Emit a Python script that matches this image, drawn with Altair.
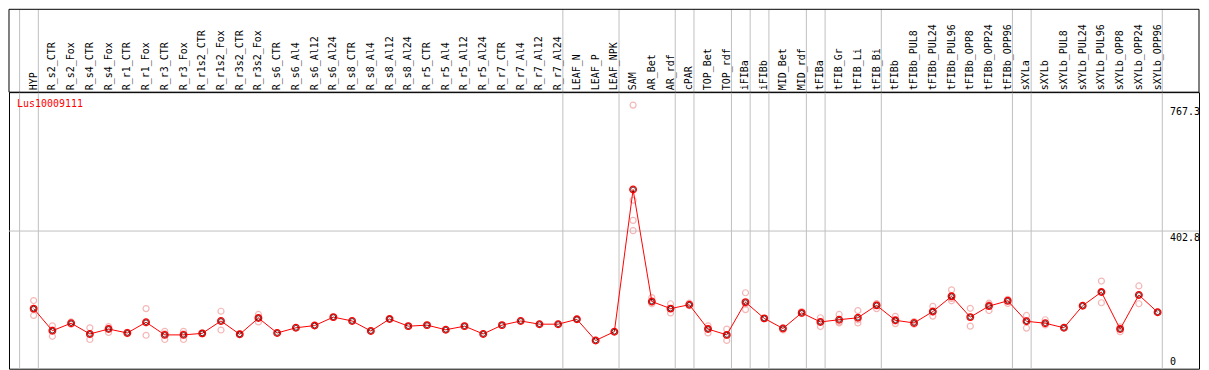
import altair as alt
import pandas as pd

# ---------------- data ----------------
names = ["HYP", "R_s2_CTR", "R_s2_Fox", "R_s4_CTR", "R_s4_Fox", "R_r1_CTR", "R_r1_Fox",
         "R_r3_CTR", "R_r3_Fox", "R_r1s2_CTR", "R_r1s2_Fox", "R_r3s2_CTR", "R_r3s2_Fox",
         "R_s6_CTR", "R_s6_Al4", "R_s6_Al12", "R_s6_Al24", "R_s8_CTR", "R_s8_Al4",
         "R_s8_Al12", "R_s8_Al24", "R_r5_CTR", "R_r5_Al4", "R_r5_Al12", "R_r5_Al24",
         "R_r7_CTR", "R_r7_Al4", "R_r7_Al12", "R_r7_Al24", "LEAF_N", "LEAF_P", "LEAF_NPK",
         "SAM", "AR_Bet", "AR_rdf", "cPAR", "TOP_Bet", "TOP_rdf", "iFIBa", "iFIBb",
         "MID_Bet", "MID_rdf", "tFIBa", "tFIB_Gr", "tFIB_Li", "tFIB_Bi", "tFIBb",
         "tFIBb_PUL8", "tFIBb_PUL24", "tFIBb_PUL96", "tFIBb_OPP8", "tFIBb_OPP24",
         "tFIBb_OPP96", "sXYLa", "sXYLb", "sXYLb_PUL8", "sXYLb_PUL24", "sXYLb_PUL96",
         "sXYLb_OPP8", "sXYLb_OPP24", "sXYLb_OPP96"]

groups = (["HYP"] + ["R"] * 28 + ["LEAF"] * 3 + ["SAM"] * 3 + ["cPAR"] + ["TOP"] * 2
          + ["iFIBa"] + ["iFIBb"] + ["MID"] * 2 + ["tFIBa"] + ["tFIB"] * 3
          + ["tFIBb"] * 7 + ["sXYLa"] + ["sXYLb"] * 7)

means = [178.4, 114.4, 136.1, 105.1, 119.2, 107.9, 138.9, 102.3, 102.3, 106.8,
         142.6, 104.0, 151.0, 107.9, 122.9, 129.3, 153.8, 142.6, 113.6, 148.2,
         127.6, 130.5, 117.2, 127.6, 105.1, 130.5, 142.6, 133.3, 133.3, 147.4,
         86.2, 111.6, 523.0, 198.9, 178.4, 189.6, 119.2, 102.3, 197.0, 150.2,
         120.9, 166.0, 139.8, 146.2, 151.9, 187.7, 144.5, 136.9, 169.9, 213.9,
         153.8, 185.7, 200.9, 141.7, 136.1, 122.9, 186.8, 226.3, 119.2, 217.8,
         167.9]

reps = [[201.7, 158.6, 175.0], [128.5, 98.3, 116.0], [139.8, 133.3], [122.9, 89.0, 103.0],
        [126.5, 109.6, 121.0], [110.0, 106.0], [178.4, 101.2, 137.0], [112.4, 89.0, 105.0],
        [112.4, 89.0, 105.0], [108.0, 105.0], [170.8, 116.4, 141.0], [105.0, 103.0],
        [161.5, 139.8, 152.0], [108.0], [123.0], [129.0], [154.0], [143.0], [114.0],
        [148.0], [127.6], [130.5], [117.2], [127.6], [105.1], [130.5], [142.6], [133.3],
        [133.3], [147.4], [86.2], [111.6], [767.3, 492.0, 433.6, 404.0],
        [210.2, 192.4, 197.0], [192.4, 166.0, 178.0], [194.1, 186.8],
        [128.5, 107.9, 121.0], [119.2, 86.2, 101.0], [224.3, 175.5, 192.0], [150.0],
        [116.4, 123.0], [169.9, 164.0], [151.9, 126.5, 141.0], [161.5, 136.9, 140.0],
        [172.7, 136.9, 146.0], [191.3, 178.4, 193.0], [155.8, 135.0, 143.0],
        [140.6, 133.3], [184.8, 156.7, 168.0], [232.7, 200.9, 208.0], [179.2, 127.6],
        [194.1, 172.7, 190.0], [205.4, 193.3], [158.6, 122.0, 144.0], [146.2, 131.3],
        [123.0], [187.0], [258.1, 195.3, 225.0], [125.7, 111.6, 120.0],
        [244.0, 192.4, 217.0], [168.0]]

gene = "Lus10009111"
tick_labels = [767.3, 402.8]
zero_label = [0]
grid_values = [402.8]

# ---------------- layout ----------------
W, H, HH = 1192, 277, 83
FONT = "DejaVu Sans Mono"
XDOM = [-1.316, 62.21]
YDOM = [4.5, 804.7]

df = pd.DataFrame({"idx": list(range(len(names))), "name": names, "mean": means})
rep_rows = [{"idx": i, "value": v} for i, vals in enumerate(reps) for v in vals]
df_rep = pd.DataFrame(rep_rows)

ends = [-1] + [i for i in range(len(groups)) if i == len(groups) - 1 or groups[i] != groups[i + 1]]
df_sep = pd.DataFrame({"pos": [e + 0.25 for e in ends]})

xs = alt.Scale(domain=XDOM, nice=False, zero=False)
ys = alt.Scale(domain=YDOM, nice=False, zero=False)
X = alt.X("idx:Q", scale=xs, axis=None)

seps = alt.Chart(df_sep).mark_rule(color="#c0c0c0", strokeWidth=1).encode(
    x=alt.X("pos:Q", scale=xs, axis=None),
    y=alt.value(-HH), y2=alt.value(H))

grid = alt.Chart(pd.DataFrame({"v": grid_values})).mark_rule(color="#c0c0c0", strokeWidth=1).encode(
    y=alt.Y("v:Q", scale=ys, axis=None),
    x=alt.value(0), x2=alt.value(W))

col_labels = alt.Chart(df).mark_text(
    font=FONT, fontSize=10, color="black", angle=270, align="left", baseline="middle").encode(
    x=X, y=alt.value(-2), text="name:N")

rep_pts = alt.Chart(df_rep).mark_point(shape="circle", filled=False, size=36,
                                       color="#f09a9a", strokeWidth=1.2).encode(
    x=X, y=alt.Y("value:Q", scale=ys, axis=None))

line = alt.Chart(df).mark_line(color="#ff0000", strokeWidth=1).encode(
    x=X, y=alt.Y("mean:Q", scale=ys, axis=None))

mean_pts = alt.Chart(df).mark_point(shape="circle", filled=False, size=44,
                                    color="#ff0000", strokeWidth=1.3, opacity=1).encode(
    x=X, y=alt.Y("mean:Q", scale=ys, axis=None))

mean_inner = alt.Chart(df).mark_point(shape="circle", filled=False, size=22,
                                      color="#300000", strokeWidth=0.9, opacity=0.85).encode(
    x=X, y=alt.Y("mean:Q", scale=ys, axis=None))

top_labels = alt.Chart(pd.DataFrame({"v": tick_labels})).mark_text(
    font=FONT, fontSize=10, color="black", align="left", baseline="top", dy=2).encode(
    y=alt.Y("v:Q", scale=ys, axis=None), x=alt.value(W - 29), text=alt.Text("v:Q", format=".1f"))

zero_lab = alt.Chart(pd.DataFrame({"v": zero_label})).mark_text(
    font=FONT, fontSize=10, color="black", align="left", baseline="bottom", dy=-3).encode(
    y=alt.Y("v:Q", scale=ys, axis=None), x=alt.value(W - 29), text=alt.Text("v:Q", format="d"))

title = alt.Chart(pd.DataFrame({"t": [gene]})).mark_text(
    font=FONT, fontSize=10, color="#ff0000", align="left", baseline="top").encode(
    x=alt.value(8), y=alt.value(7), text="t:N")

header = alt.Chart(pd.DataFrame({"a": [0]})).mark_rect(
    filled=False, stroke="black", strokeWidth=1, fill="transparent").encode(
    x=alt.value(0), x2=alt.value(W), y=alt.value(-HH), y2=alt.value(0))

chart = alt.layer(seps, grid, col_labels, rep_pts, line, mean_pts, mean_inner, top_labels,
                  zero_lab, title, header).properties(
    width=W, height=H, padding=0, background="white"
).configure_view(stroke="black", strokeWidth=1)

chart.save("out.html", embed_options={"renderer": "svg", "actions": False})
